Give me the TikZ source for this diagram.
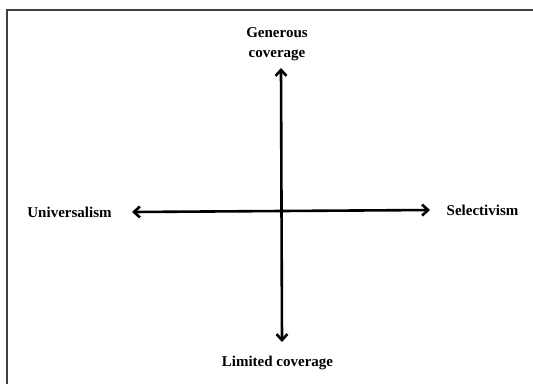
\documentclass[tikz,border=0pt]{standalone}
\usepackage{fontspec}
\setmainfont{Liberation Serif}
\usetikzlibrary{arrows.meta}
\tikzstyle{axislabel} = [
    inner sep=0pt,
    align=center,
    font=\fontsize{15}{20}\selectfont\bfseries
]
\tikzstyle{axis} = [line width=2.6pt, {Straight Barb[length=6pt,width=11pt]}-{Straight Barb[length=6pt,width=11pt]}]
\tikzstyle{frame} = [line width=2pt, black!75]

\begin{document}
\begin{tikzpicture}[x=1pt, y=-1pt]
\useasboundingbox (0,0) rectangle (533,384);

\draw [frame] (7,384) -- (7,10) -- (533,10);

\node (gen) [axislabel] at (277,44) {Generous\\coverage};
\node (lim) [axislabel] at (277.5,363) {Limited coverage};
\node (uni) [axislabel] at (69.5,212) {Universalism};
\node (sel) [axislabel] at (482.5,210) {Selectivism};

\coordinate (up) at (281,68);
\coordinate (down) at (282,342);
\coordinate (left) at (132,212);
\coordinate (right) at (430,210);

\draw [axis] (down) -- (up);
\draw [axis] (left) -- (right);

\end{tikzpicture}
\end{document}
